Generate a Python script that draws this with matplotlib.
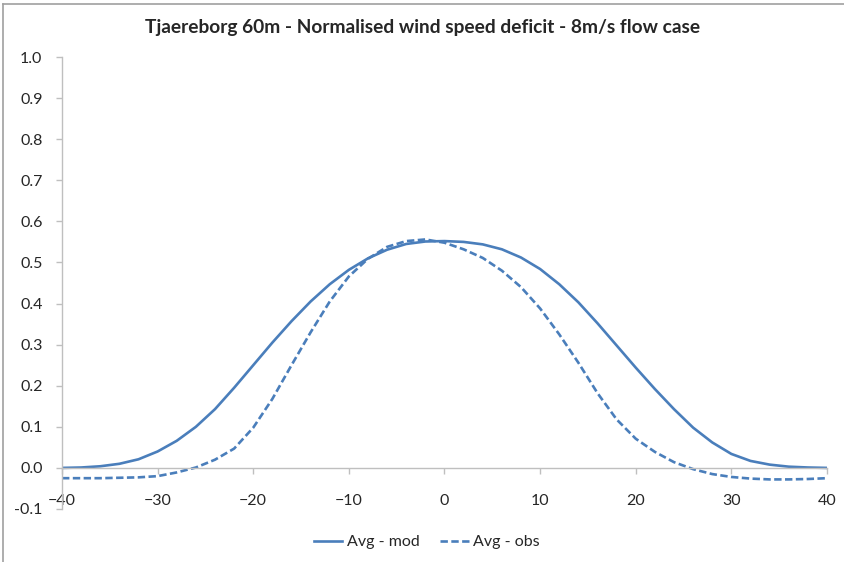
import numpy as np
import matplotlib
matplotlib.use("Agg")
import matplotlib.pyplot as plt
from matplotlib.lines import Line2D

# lateral offset (m) and normalised deficit
offset = list(range(-40, 41, 2))
avg_mod = [0.000, 0.001, 0.004, 0.010, 0.021, 0.040, 0.066, 0.100, 0.143, 0.195,
           0.250, 0.305, 0.357, 0.405, 0.447, 0.482, 0.510, 0.531, 0.545, 0.551,
           0.552, 0.550, 0.544, 0.532, 0.512, 0.484, 0.447, 0.403, 0.352, 0.298,
           0.244, 0.192, 0.143, 0.098, 0.062, 0.034, 0.017, 0.008, 0.003, 0.001,
           0.000]
avg_obs = [-0.025, -0.025, -0.025, -0.024, -0.023, -0.020, -0.011, 0.001, 0.020, 0.047,
           0.098, 0.168, 0.250, 0.330, 0.405, 0.466, 0.509, 0.538, 0.552, 0.556,
           0.548, 0.532, 0.511, 0.480, 0.440, 0.388, 0.325, 0.256, 0.182, 0.118,
           0.071, 0.039, 0.014, -0.003, -0.015, -0.022, -0.026, -0.028, -0.028, -0.027,
           -0.025]

plt.rcParams['font.family'] = ['Lato', 'DejaVu Sans']
blue = '#4A7EBB'
axcol = '#BFBFBF'
txtcol = '#262626'
obs_ls = (0, (2.8, 1.3))

fig = plt.figure(figsize=(8.45, 5.62), dpi=100)
ax = fig.add_axes([62/845, 1-509/562, (827-62)/845, (509-57)/562])

ax.plot(offset, avg_mod, color=blue, lw=1.9, label='Avg - mod')
ax.plot(offset, avg_obs, color=blue, lw=1.9, ls=obs_ls, label='Avg - obs')

ax.set_xlim(-40, 40)
ax.set_ylim(-0.1, 1.0)
ax.set_xticks(np.arange(-40, 41, 10))
yt = np.arange(-0.1, 1.01, 0.1)
ax.set_yticks(yt)
ax.set_yticklabels([f'{v:.1f}' for v in yt])

for s in ['top', 'right']:
    ax.spines[s].set_visible(False)
ax.spines['bottom'].set_position(('data', 0))
for s in ['left', 'bottom']:
    ax.spines[s].set_color(axcol)
    ax.spines[s].set_linewidth(1.0)
ax.tick_params(axis='y', direction='out', length=4, width=1, color=axcol,
               labelsize=11.5, labelcolor=txtcol, pad=10)
ax.tick_params(axis='x', direction='out', length=4, width=1, color=axcol,
               labelsize=11.5, labelcolor=txtcol, pad=15)

fig.text(0.5, 1-33.3/562, 'Tjaereborg 60m - Normalised wind speed deficit - 8m/s flow case',
         ha='center', va='baseline', fontsize=13.8, fontweight='bold', color=txtcol)

handles = [Line2D([], [], color=blue, lw=1.9),
           Line2D([], [], color=blue, lw=1.9, ls=obs_ls)]
fig.legend(handles, ['Avg - mod', 'Avg - obs'], loc='center', bbox_to_anchor=(0.505, 1-542/562),
           ncol=2, frameon=False, fontsize=11.5, handlelength=1.8, handletextpad=0.3,
           columnspacing=1.25, labelcolor=txtcol)

# chart area border (top and left visible)
fig.add_artist(Line2D([3/845, 3/845], [0, 1-4/562], transform=fig.transFigure, color='#A0A0A0', lw=1.2))
fig.add_artist(Line2D([3/845, 1], [1-4/562, 1-4/562], transform=fig.transFigure, color='#A0A0A0', lw=1.2))

fig.savefig('out.png', dpi=100)
